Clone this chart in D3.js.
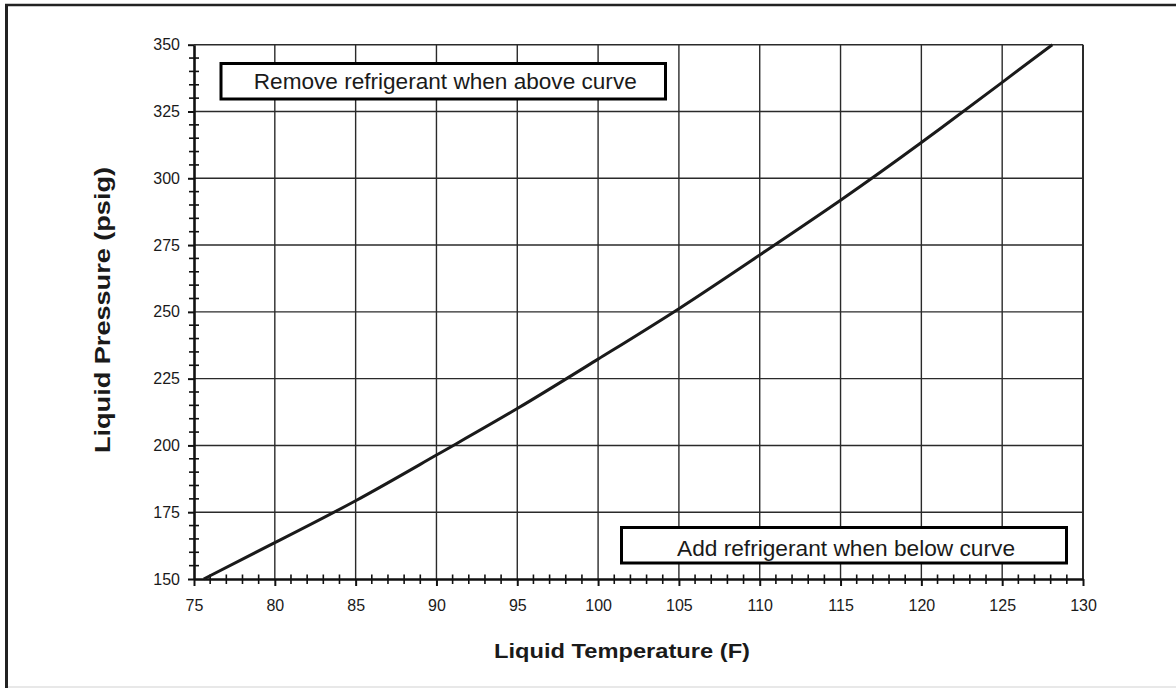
<!DOCTYPE html>
<html>
<head>
<meta charset="utf-8">
<script src="https://cdn.jsdelivr.net/npm/d3@7"></script>
<style>
  html, body { margin: 0; padding: 0; background: #fff; }
  svg { display: block; }
  text { font-family: "Liberation Sans", Arial, Helvetica, sans-serif; fill: #1a1a1a; }
</style>
</head>
<body>
<svg id="chart" width="1176" height="688"></svg>
<script>
// ---- data ----
const temperatures = [75.6, 80, 85, 90, 95, 100, 105, 110, 115, 120, 125, 128.1];
const pressures    = [150, 163.6, 179.3, 196.4, 213.8, 232.3, 251.2, 271.3, 291.8, 313.4, 335.9, 350];
const xTickLabels  = [75, 80, 85, 90, 95, 100, 105, 110, 115, 120, 125, 130];
const yTickLabels  = [150, 175, 200, 225, 250, 275, 300, 325, 350];
const xTitle = "Liquid Temperature (F)";
const yTitle = "Liquid Pressure (psig)";
const upperNote = "Remove refrigerant when above curve";
const lowerNote = "Add refrigerant when below curve";

const svg = d3.select("#chart");
const L = 194, R = 1083, T = 44.7, B = 579;
const x = d3.scaleLinear().domain([75, 130]).range([L, R]);
const y = d3.scaleLinear().domain([150, 350]).range([B, T]);

// outer frame
svg.append("line").attr("x1", 6.5).attr("x2", 6.5).attr("y1", 4).attr("y2", 688)
  .attr("stroke", "#222").attr("stroke-width", 3);
svg.append("line").attr("x1", 5).attr("x2", 1176).attr("y1", 5).attr("y2", 5)
  .attr("stroke", "#222").attr("stroke-width", 2.5);
svg.append("line").attr("x1", 8).attr("x2", 1176).attr("y1", 687).attr("y2", 687)
  .attr("stroke", "#e0e0e0").attr("stroke-width", 1.5);

// gridlines
const grid = svg.append("g").attr("stroke", "#2a2a2a").attr("stroke-width", 1.4);
grid.selectAll("line.v").data(xTickLabels.filter(d => d > 75)).join("line")
  .attr("x1", d => x(d)).attr("x2", d => x(d)).attr("y1", T).attr("y2", B)
  .attr("stroke-width", d => d === 130 ? 2 : 1.4);
grid.selectAll("line.h").data(yTickLabels.filter(d => d > 150)).join("line")
  .attr("x1", L).attr("x2", R).attr("y1", d => y(d)).attr("y2", d => y(d));

// minor ticks
const minorY = d3.range(155, 350, 5).filter(d => d % 25 !== 0);
svg.append("g").selectAll("line").data(minorY).join("line")
  .attr("x1", L - 5).attr("x2", L + 5).attr("y1", d => y(d)).attr("y2", d => y(d))
  .attr("stroke", "#111").attr("stroke-width", 1.6);
const minorX = d3.range(76, 130, 1).filter(d => d % 5 !== 0);
svg.append("g").selectAll("line").data(minorX).join("line")
  .attr("x1", d => x(d)).attr("x2", d => x(d)).attr("y1", B - 4.5).attr("y2", B + 5)
  .attr("stroke", "#111").attr("stroke-width", 1.6);

// axes
const yAxis = svg.append("g").attr("transform", `translate(${L},0)`)
  .call(d3.axisLeft(y).tickValues(yTickLabels).tickSize(6).tickPadding(8).tickSizeOuter(0));
const xAxis = svg.append("g").attr("transform", `translate(0,${B})`)
  .call(d3.axisBottom(x).tickValues(xTickLabels).tickSize(7).tickPadding(13.6).tickSizeOuter(0));
[yAxis, xAxis].forEach(a => {
  a.select(".domain").attr("stroke", "#111").attr("stroke-width", 2.6);
  a.selectAll(".tick line").attr("stroke", "#111").attr("stroke-width", 2);
  a.selectAll(".tick text").attr("font-size", 16)
    .attr("font-family", '"Liberation Sans", Arial, sans-serif').attr("fill", "#1a1a1a");
});

// curve
const line = d3.line().x(d => x(d[0])).y(d => y(d[1])).curve(d3.curveNatural);
svg.append("path").datum(d3.zip(temperatures, pressures))
  .attr("d", line).attr("fill", "none").attr("stroke", "#1a1a1a").attr("stroke-width", 3);

// note boxes
function note(x0, y0, x1, y1, txt, baseline, width) {
  svg.append("rect").attr("x", x0).attr("y", y0).attr("width", x1 - x0).attr("height", y1 - y0)
    .attr("fill", "#fff").attr("stroke", "#000").attr("stroke-width", 3);
  svg.append("text").attr("x", (x0 + x1) / 2 + 2).attr("y", baseline)
    .attr("text-anchor", "middle").attr("font-size", 22)
    .attr("textLength", width).attr("lengthAdjust", "spacingAndGlyphs").text(txt);
}
note(221, 63.5, 665.5, 99, upperNote, 89, 383);
note(621.5, 527.5, 1066.5, 563, lowerNote, 555.5, 338);

// titles
svg.append("text").attr("x", 622).attr("y", 657.7).attr("text-anchor", "middle")
  .attr("font-size", 21).attr("font-weight", "bold")
  .attr("textLength", 256).attr("lengthAdjust", "spacingAndGlyphs").text(xTitle);
svg.append("text").attr("transform", "translate(109.5,310) rotate(-90)")
  .attr("text-anchor", "middle").attr("font-size", 22).attr("font-weight", "bold")
  .attr("textLength", 286).attr("lengthAdjust", "spacingAndGlyphs").text(yTitle);
</script>
</body>
</html>
